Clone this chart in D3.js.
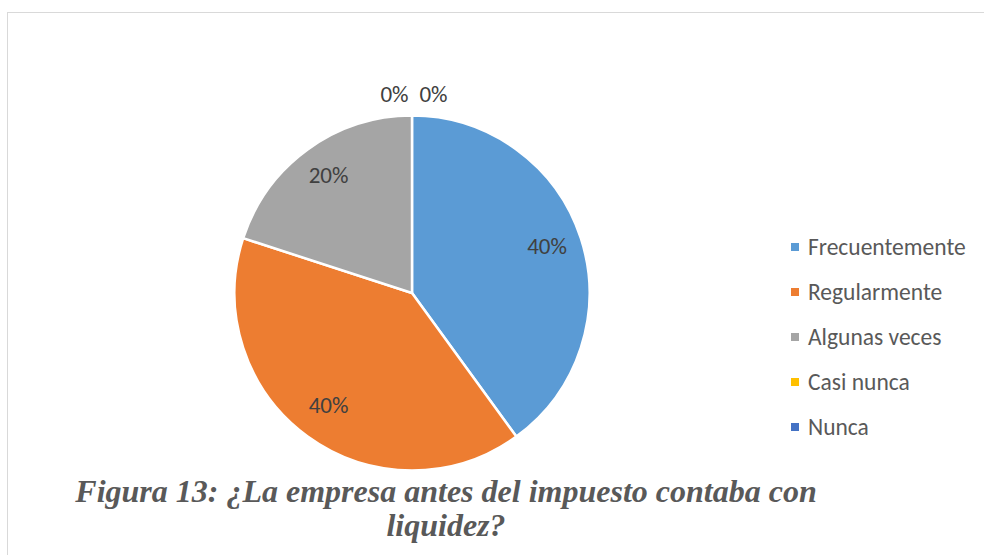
<!DOCTYPE html>
<html>
<head>
<meta charset="utf-8">
<script src="https://cdn.jsdelivr.net/npm/d3@7"></script>
<style>
  body { margin: 0; background: #fff; }
  svg { display: block; }
</style>
</head>
<body>
<div id="chart"></div>
<script>
'use strict';

// datos de la figura 13
var categorias = ['Frecuentemente', 'Regularmente', 'Algunas veces', 'Casi nunca', 'Nunca'];
var porcentajes = [40, 40, 20, 0, 0];
var colores = ['#5B9BD5', '#ED7D31', '#A5A5A5', '#FFC000', '#4472C4'];
var tituloLineas = ['Figura 13: ¿La empresa antes del impuesto contaba con', 'liquidez?'];

var width = 984, height = 555;
var cx = 412, cy = 293, radius = 177.5;

var svg = d3.select('#chart').append('svg')
  .attr('width', width)
  .attr('height', height);

// marco del grafico
svg.append('rect')
  .attr('x', 7.5)
  .attr('y', 12.5)
  .attr('width', width + 20)
  .attr('height', height + 20)
  .attr('fill', 'none')
  .attr('stroke', '#d9d9d9')
  .attr('stroke-width', 1);

var color = d3.scaleOrdinal().domain(categorias).range(colores);

var pie = d3.pie()
  .sort(null)
  .value(function(d) { return d.value; });

var data = categorias.map(function(c, i) { return {name: c, value: porcentajes[i]}; });
var arcs = pie(data);

var arc = d3.arc().innerRadius(0).outerRadius(radius);
var labelArc = d3.arc().innerRadius(radius * 0.8).outerRadius(radius * 0.8);

var g = svg.append('g')
  .attr('transform', 'translate(' + cx + ',' + cy + ')');

g.selectAll('path')
  .data(arcs.filter(function(d) { return d.value > 0; }))
  .enter()
  .append('path')
  .attr('d', arc)
  .attr('fill', function(d) { return color(d.data.name); })
  .attr('stroke', '#fff')
  .attr('stroke-width', 2.5)
  .attr('stroke-linejoin', 'round');

var total = d3.sum(porcentajes);
var fmt = function(v) { return Math.round(v / total * 100) + '%'; };

// etiquetas dentro de las porciones
g.selectAll('text.pct')
  .data(arcs.filter(function(d) { return d.value > 0; }))
  .enter()
  .append('text')
  .attr('class', 'pct')
  .attr('transform', function(d) {
    var c = labelArc.centroid(d);
    return 'translate(' + c[0] + ',' + (c[1] - 3) + ')';
  })
  .attr('text-anchor', 'middle')
  .attr('dy', '0.35em')
  .style('font-family', 'Carlito, Calibri, Lato, sans-serif')
  .style('font-size', '23px')
  .style('fill', '#404040')
  .text(function(d) { return fmt(d.value); });

// etiquetas de porciones vacias, fuera del circulo
var ceros = arcs.filter(function(d) { return d.value === 0; });
g.selectAll('text.zero')
  .data(ceros)
  .enter()
  .append('text')
  .attr('class', 'zero')
  .attr('x', function(d, i) {
    var a = d.startAngle;
    return Math.sin(a) * (radius + 22) + 2 + (i - (ceros.length - 1) / 2) * 39;
  })
  .attr('y', function(d) { return -Math.cos(d.startAngle) * (radius + 22); })
  .attr('text-anchor', 'middle')
  .attr('dy', '0.35em')
  .style('font-family', 'Carlito, Calibri, Lato, sans-serif')
  .style('font-size', '23px')
  .style('fill', '#404040')
  .text(function(d) { return fmt(d.value); });

// leyenda
var legend = svg.append('g')
  .attr('transform', 'translate(791,247)');

var item = legend.selectAll('g')
  .data(categorias)
  .enter()
  .append('g')
  .attr('transform', function(d, i) { return 'translate(0,' + i * 45 + ')'; });

item.append('rect')
  .attr('x', 0)
  .attr('y', -4)
  .attr('width', 8)
  .attr('height', 8)
  .attr('fill', function(d) { return color(d); });

item.append('text')
  .attr('x', 17)
  .attr('dy', '0.35em')
  .style('font-family', 'Carlito, Calibri, Lato, sans-serif')
  .style('font-size', '23.5px')
  .style('fill', '#595959')
  .text(function(d) { return d; });

// titulo de la figura
svg.selectAll('text.titulo')
  .data(tituloLineas)
  .enter()
  .append('text')
  .attr('class', 'titulo')
  .attr('x', 446)
  .attr('y', function(d, i) { return 502 + i * 34; })
  .attr('text-anchor', 'middle')
  .style('font-family', '"Liberation Serif", "Times New Roman", serif')
  .style('font-weight', 'bold')
  .style('font-style', 'italic')
  .style('font-size', '32px')
  .style('fill', '#595959')
  .text(function(d) { return d; });
</script>
</body>
</html>
